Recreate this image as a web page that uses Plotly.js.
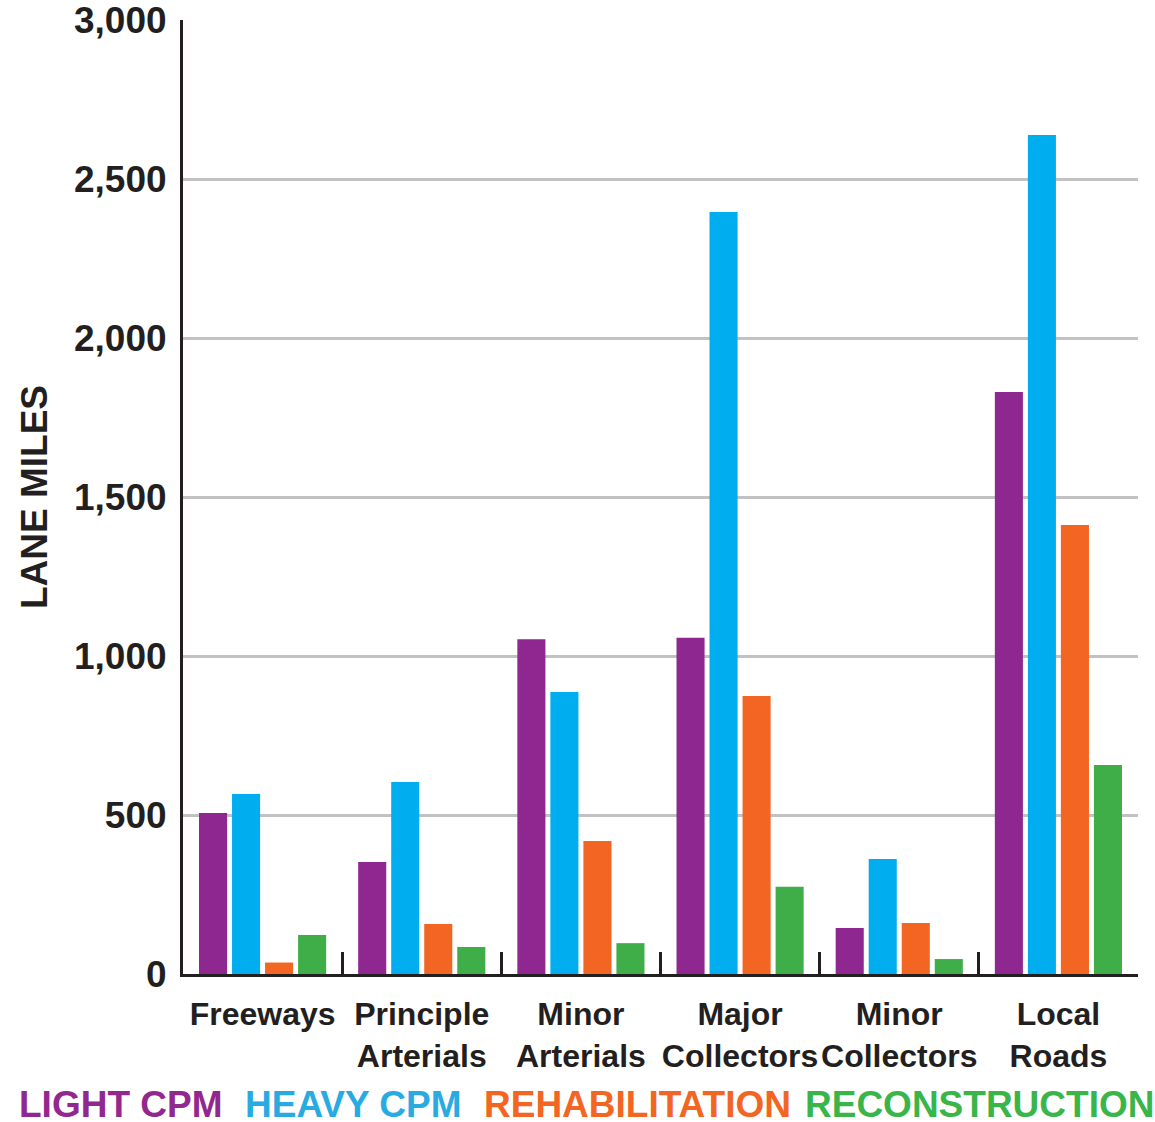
<!DOCTYPE html>
<html>
<head>
<meta charset="utf-8">
<script src="https://cdn.plot.ly/plotly-3.0.1.min.js"></script>
<style>html,body{margin:0;padding:0;background:#fff;}#chart{width:1155px;height:1122px;}</style>
</head>
<body>
<div id="chart"></div>
<script>
const categories = ["Freeways", "Principle<br>Arterials", "Minor<br>Arterials", "Major<br>Collectors", "Minor<br>Collectors", "Local<br>Roads"];
const seriesNames = ["LIGHT CPM", "HEAVY CPM", "REHABILITATION", "RECONSTRUCTION"];
const lightCPM = [506, 352, 1053, 1057, 145, 1830];
const heavyCPM = [566, 604, 887, 2396, 362, 2638];
const rehabilitation = [36, 157, 418, 874, 160, 1412];
const reconstruction = [123, 85, 97, 274, 47, 657];
const yTickVals = [0, 500, 1000, 1500, 2000, 2500, 3000];

const barColors = ["#8e278f", "#00aeef", "#f26522", "#3fae49"];
const legendColors = ["#92278f", "#29abe2", "#f26522", "#39b54a"];
const seriesValues = [lightCPM, heavyCPM, rehabilitation, reconstruction];

const FONT = "Liberation Sans, Arial, Helvetica, sans-serif";
const dark = "#231f20";

const traces = seriesValues.map((vals, i) => ({
  type: "bar",
  name: seriesNames[i],
  x: categories,
  y: vals,
  marker: {color: barColors[i], line: {width: 0}},
  hoverinfo: "x+y+name"
}));

const legendX = [17, 243, 482, 803];
const annotations = seriesNames.map((n, i) => ({
  text: n,
  xref: "paper", yref: "paper",
  x: (legendX[i] - 183) / (1138 - 183),
  y: (1122 - 1104 - 148) / (1122 - 20 - 148),
  xanchor: "left", yanchor: "middle",
  showarrow: false,
  font: {family: FONT, size: 37, color: legendColors[i], weight: "bold"}
}));

const layout = {
  width: 1155, height: 1122,
  margin: {l: 183, r: 17, t: 20, b: 148},
  paper_bgcolor: "#fff", plot_bgcolor: "#fff",
  showlegend: false,
  barmode: "group",
  bargap: 0.17,
  bargroupgap: 0.15,
  font: {family: FONT, color: dark},
  xaxis: {
    type: "category",
    showline: true, linecolor: dark, linewidth: 3,
    ticks: "inside", tickson: "boundaries", ticklen: 22, tickwidth: 3, tickcolor: dark,
    showgrid: false,
    tickangle: 0,
    tickfont: {family: FONT, size: 32, color: dark, weight: "bold"},
    ticklabelstandoff: 10,
    ticklabeloverflow: "allow",
    automargin: false
  },
  yaxis: {
    range: [0, 3000],
    tickvals: yTickVals,
    tickformat: ",",
    showline: true, linecolor: dark, linewidth: 3,
    ticks: "", zeroline: false,
    showgrid: true, gridcolor: "#c2c2c4", gridwidth: 3,
    tickfont: {family: FONT, size: 37, color: dark, weight: "bold"},
    ticklabelstandoff: 6,
    ticklabeloverflow: "allow",
    title: {text: "LANE MILES", standoff: 16, font: {family: FONT, size: 37, color: dark, weight: "bold"}},
    automargin: false
  },
  annotations: annotations
};

Plotly.newPlot("chart", traces, layout, {displayModeBar: false, staticPlot: true});
</script>
</body>
</html>
